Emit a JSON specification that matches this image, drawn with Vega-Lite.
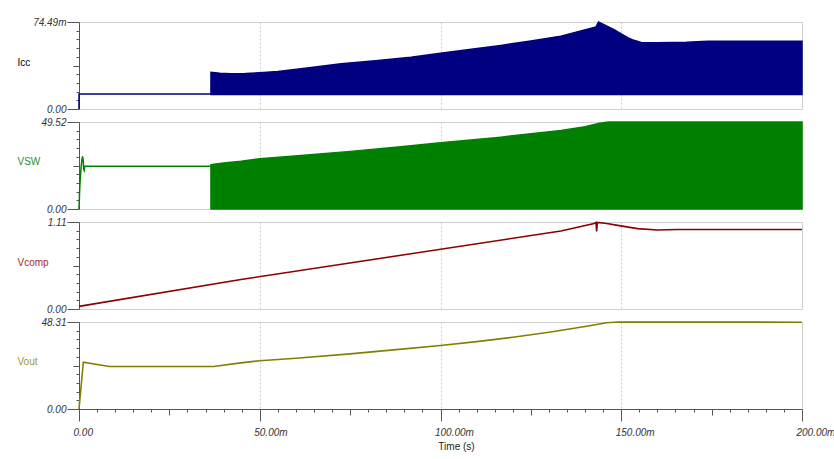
{
  "$schema": "https://vega.github.io/schema/vega-lite/v6.json",
  "padding": {"left": 16, "top": 16, "right": 0, "bottom": 2},
  "background": "white",
  "bounds": "flush",
  "spacing": 13,
  "config": {
    "axis": {
      "labelFont": "Liberation Sans", "titleFont": "Liberation Sans",
      "labelFontSize": 10, "titleFontSize": 10, "titleFontWeight": "normal",
      "labelColor": "#333333", "tickColor": "#555555", "domainColor": "#555555",
      "labelFontStyle": "italic", "labelFlush": false, "labelOverlap": false, "labelBound": false
    },
    "view": {"stroke": "#d0d0d0"}
  },
  "datasets": {
    "icc": [
      {"t": 0, "lo": 0, "hi": 0},
      {"t": 0.00001, "lo": 0.0128, "hi": 0.0128},
      {"t": 0.0365, "lo": 0.0128, "hi": 0.0128},
      {"t": 0.03651, "lo": 0.0125, "hi": 0.0315},
      {"t": 0.039, "lo": 0.0125, "hi": 0.0307},
      {"t": 0.042, "lo": 0.0125, "hi": 0.0301},
      {"t": 0.046, "lo": 0.0125, "hi": 0.0303},
      {"t": 0.050, "lo": 0.0125, "hi": 0.0310},
      {"t": 0.055, "lo": 0.0125, "hi": 0.0322},
      {"t": 0.0614, "lo": 0.0125, "hi": 0.0344},
      {"t": 0.0725, "lo": 0.0125, "hi": 0.0387},
      {"t": 0.082, "lo": 0.0125, "hi": 0.0414},
      {"t": 0.0918, "lo": 0.0125, "hi": 0.0444},
      {"t": 0.100, "lo": 0.0125, "hi": 0.0478},
      {"t": 0.1085, "lo": 0.0125, "hi": 0.0511},
      {"t": 0.1167, "lo": 0.0125, "hi": 0.0544},
      {"t": 0.125, "lo": 0.0125, "hi": 0.0583},
      {"t": 0.1333, "lo": 0.0125, "hi": 0.0624},
      {"t": 0.1430, "lo": 0.0125, "hi": 0.0702},
      {"t": 0.1437, "lo": 0.0125, "hi": 0.0745},
      {"t": 0.148, "lo": 0.0125, "hi": 0.0680},
      {"t": 0.1518, "lo": 0.0125, "hi": 0.0611},
      {"t": 0.1535, "lo": 0.0125, "hi": 0.0588},
      {"t": 0.1555, "lo": 0.0125, "hi": 0.0570},
      {"t": 0.160, "lo": 0.0125, "hi": 0.0568},
      {"t": 0.168, "lo": 0.0125, "hi": 0.0572},
      {"t": 0.174, "lo": 0.0125, "hi": 0.0580},
      {"t": 0.185, "lo": 0.0125, "hi": 0.0581},
      {"t": 0.200, "lo": 0.0125, "hi": 0.0580}
    ],
    "vsw": [
      {"t": 0, "lo": 0, "hi": 0},
      {"t": 0.0002, "lo": 12, "hi": 12},
      {"t": 0.0005, "lo": 22, "hi": 22},
      {"t": 0.0008, "lo": 28, "hi": 28},
      {"t": 0.0010, "lo": 29.9, "hi": 29.9},
      {"t": 0.0012, "lo": 27, "hi": 27},
      {"t": 0.0013, "lo": 22.5, "hi": 22.5},
      {"t": 0.00145, "lo": 21.9, "hi": 21.9},
      {"t": 0.0016, "lo": 24.4, "hi": 24.4},
      {"t": 0.0365, "lo": 24.4, "hi": 24.4},
      {"t": 0.03651, "lo": 0, "hi": 25.2},
      {"t": 0.040, "lo": 0, "hi": 26.2},
      {"t": 0.0448, "lo": 0, "hi": 27.2},
      {"t": 0.050, "lo": 0, "hi": 28.6},
      {"t": 0.0614, "lo": 0, "hi": 30.5},
      {"t": 0.075, "lo": 0, "hi": 32.8},
      {"t": 0.089, "lo": 0, "hi": 35.4},
      {"t": 0.100, "lo": 0, "hi": 37.7},
      {"t": 0.1167, "lo": 0, "hi": 40.9},
      {"t": 0.1333, "lo": 0, "hi": 44.7},
      {"t": 0.140, "lo": 0, "hi": 46.8},
      {"t": 0.144, "lo": 0, "hi": 48.8},
      {"t": 0.1465, "lo": 0, "hi": 49.52},
      {"t": 0.200, "lo": 0, "hi": 49.52}
    ],
    "vcomp": [
      {"t": 0, "v": 0.033},
      {"t": 0.0448, "v": 0.376},
      {"t": 0.090, "v": 0.692},
      {"t": 0.1333, "v": 0.995},
      {"t": 0.1425, "v": 1.09},
      {"t": 0.1430, "v": 1.105},
      {"t": 0.1432, "v": 0.99},
      {"t": 0.1434, "v": 1.105},
      {"t": 0.146, "v": 1.09},
      {"t": 0.149, "v": 1.067},
      {"t": 0.1545, "v": 1.025},
      {"t": 0.160, "v": 1.008},
      {"t": 0.1656, "v": 1.015},
      {"t": 0.200, "v": 1.015}
    ],
    "vout": [
      {"t": 0, "v": 0},
      {"t": 0.0012, "v": 26.0},
      {"t": 0.0084, "v": 23.6},
      {"t": 0.0372, "v": 23.6},
      {"t": 0.0448, "v": 25.6},
      {"t": 0.050, "v": 26.8},
      {"t": 0.060, "v": 28.2},
      {"t": 0.075, "v": 30.6},
      {"t": 0.090, "v": 33.4},
      {"t": 0.100, "v": 35.3},
      {"t": 0.110, "v": 37.4},
      {"t": 0.120, "v": 39.8},
      {"t": 0.130, "v": 42.6},
      {"t": 0.140, "v": 45.8},
      {"t": 0.146, "v": 47.9},
      {"t": 0.149, "v": 48.31},
      {"t": 0.160, "v": 48.25},
      {"t": 0.200, "v": 48.2}
    ]
  },
  "vconcat": [
    {
      "width": 723, "height": 87,
      "data": {"name": "icc"},
      "mark": {"type": "area", "color": "#000080", "stroke": "#000080", "strokeWidth": 1.5},
      "encoding": {
        "x": {"field": "t", "type": "quantitative", "scale": {"domain": [0, 0.2], "nice": false},
          "axis": {"values": [0.05, 0.1, 0.15], "grid": true, "gridDash": [2, 2], "gridColor": "#cccccc", "labels": false, "ticks": false, "domain": false, "title": null}},
        "y": {"field": "hi", "type": "quantitative", "scale": {"domain": [0, 0.07449], "nice": false},
          "axis": {
            "values": [0, 0.007449, 0.014898, 0.022347, 0.029796, 0.037245, 0.044694, 0.052143, 0.059592, 0.067041, 0.07449],
            "grid": false, "labelFontStyle": "italic",
            "labelExpr": "datum.value == 0 ? '0.00' : (datum.value > 0.0744 ? '74.49m' : '')",
            "tickSize": {"condition": [{"test": "datum.value == 0 || datum.value > 0.0744", "value": 12}, {"test": "abs(datum.value - 0.037245) < 0.000001", "value": 6}], "value": 3},
            "labelPadding": 1,
            "title": "Icc", "titleAngle": 0, "titleX": -62, "titleY": 40, "titleAlign": "left", "titleBaseline": "middle", "titleColor": "#000000"
          }},
        "y2": {"field": "lo"}
      }
    },
    {
      "width": 723, "height": 87,
      "data": {"name": "vsw"},
      "mark": {"type": "area", "color": "#008000", "stroke": "#008000", "strokeWidth": 1.5},
      "encoding": {
        "x": {"field": "t", "type": "quantitative", "scale": {"domain": [0, 0.2], "nice": false},
          "axis": {"values": [0.05, 0.1, 0.15], "grid": true, "gridDash": [2, 2], "gridColor": "#cccccc", "labels": false, "ticks": false, "domain": false, "title": null}},
        "y": {"field": "hi", "type": "quantitative", "scale": {"domain": [0, 49.52], "nice": false},
          "axis": {
            "values": [0, 4.952, 9.904, 14.856, 19.808, 24.76, 29.712, 34.664, 39.616, 44.568, 49.52],
            "grid": false, "labelFontStyle": "italic",
            "labelExpr": "datum.value == 0 ? '0.00' : (datum.value > 49.5 ? '49.52' : '')",
            "tickSize": {"condition": [{"test": "datum.value == 0 || datum.value > 49.5", "value": 12}, {"test": "abs(datum.value - 24.76) < 0.001", "value": 6}], "value": 3},
            "labelPadding": 1,
            "title": "VSW", "titleAngle": 0, "titleX": -62, "titleY": 39, "titleAlign": "left", "titleBaseline": "middle", "titleColor": "#2e8b2e"
          }},
        "y2": {"field": "lo"}
      }
    },
    {
      "width": 723, "height": 87,
      "data": {"name": "vcomp"},
      "mark": {"type": "line", "color": "#8b0000", "strokeWidth": 1.6},
      "encoding": {
        "x": {"field": "t", "type": "quantitative", "scale": {"domain": [0, 0.2], "nice": false},
          "axis": {"values": [0.05, 0.1, 0.15], "grid": true, "gridDash": [2, 2], "gridColor": "#cccccc", "labels": false, "ticks": false, "domain": false, "title": null}},
        "y": {"field": "v", "type": "quantitative", "scale": {"domain": [0, 1.11], "nice": false},
          "axis": {
            "values": [0, 0.111, 0.222, 0.333, 0.444, 0.555, 0.666, 0.777, 0.888, 0.999, 1.11],
            "grid": false, "labelFontStyle": "italic",
            "labelExpr": "datum.value == 0 ? '0.00' : (datum.value > 1.1 ? '1.11' : '')",
            "tickSize": {"condition": [{"test": "datum.value == 0 || datum.value > 1.1", "value": 12}, {"test": "abs(datum.value - 0.555) < 0.0001", "value": 6}], "value": 3},
            "labelPadding": 1,
            "title": "Vcomp", "titleAngle": 0, "titleX": -62, "titleY": 40, "titleAlign": "left", "titleBaseline": "middle", "titleColor": "#a52a2a"
          }}
      }
    },
    {
      "width": 723, "height": 87,
      "data": {"name": "vout"},
      "mark": {"type": "line", "color": "#808000", "strokeWidth": 1.6},
      "encoding": {
        "x": {"field": "t", "type": "quantitative", "scale": {"domain": [0, 0.2], "nice": false},
          "axis": {
            "values": [0, 0.005, 0.01, 0.015, 0.02, 0.025, 0.03, 0.035, 0.04, 0.045, 0.05, 0.055, 0.06, 0.065, 0.07, 0.075, 0.08, 0.085, 0.09, 0.095, 0.1, 0.105, 0.11, 0.115, 0.12, 0.125, 0.13, 0.135, 0.14, 0.145, 0.15, 0.155, 0.16, 0.165, 0.17, 0.175, 0.18, 0.185, 0.19, 0.195, 0.2],
            "grid": true, "gridDash": [2, 2], "gridColor": "#cccccc", "labelFontStyle": "italic",
            "gridOpacity": {"condition": {"test": "datum.value > 0.001 && datum.value < 0.199 && abs(datum.value*20 - round(datum.value*20)) < 0.001", "value": 1}, "value": 0},
            "labelExpr": "abs(datum.value*20 - round(datum.value*20)) < 0.001 ? (datum.value == 0 ? '0.00' : format(datum.value*1000, '.2f') + 'm') : ''",
            "tickSize": {"condition": [{"test": "abs(datum.value*20 - round(datum.value*20)) < 0.001", "value": 12}, {"test": "abs(datum.value*40 - round(datum.value*40)) < 0.001", "value": 6}], "value": 3},
            "labelAlign": "left", "labelOffset": -6, "labelPadding": 6,
            "title": "Time (s)", "titleX": 377, "titleY": 37, "titleAlign": "center", "titleBaseline": "middle", "titleColor": "#222222"
          }},
        "y": {"field": "v", "type": "quantitative", "scale": {"domain": [0, 48.31], "nice": false},
          "axis": {
            "values": [0, 4.831, 9.662, 14.493, 19.324, 24.155, 28.986, 33.817, 38.648, 43.479, 48.31],
            "grid": false, "labelFontStyle": "italic",
            "labelExpr": "datum.value == 0 ? '0.00' : (datum.value > 48.3 ? '48.31' : '')",
            "tickSize": {"condition": [{"test": "datum.value == 0 || datum.value > 48.3", "value": 12}, {"test": "abs(datum.value - 24.155) < 0.001", "value": 6}], "value": 3},
            "labelPadding": 1,
            "title": "Vout", "titleAngle": 0, "titleX": -62, "titleY": 39, "titleAlign": "left", "titleBaseline": "middle", "titleColor": "#9a9a30"
          }}
      }
    }
  ]
}
